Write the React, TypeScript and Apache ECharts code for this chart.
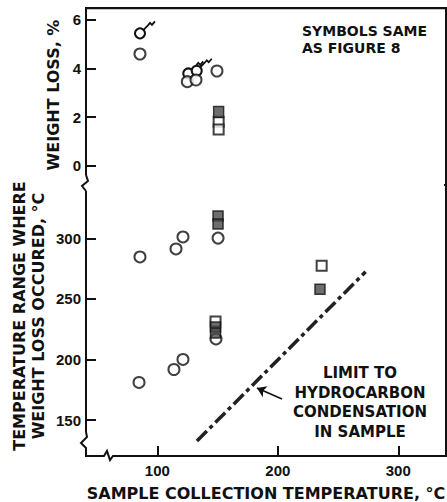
import React, { useEffect, useRef } from "react";
import * as echarts from "echarts";

// ---- data ----
const xTicks = [100, 200, 300];
const weightTicks = [0, 2, 4, 6];
const tempTicks = [150, 200, 250, 300];

// top panel: weight loss, %
const wlOpenCircles = [[85.6, 4.6], [124.9, 3.46], [132.1, 3.53], [149.5, 3.9]];
const wlFlaggedCircles = [[85.6, 5.45], [125.7, 3.8], [132.7, 3.91]];
const wlFilledSquares = [[150.9, 2.21]];
const wlOpenSquares = [[150.9, 1.81], [150.9, 1.49]];

// bottom panel: temperature range where weight loss occurred, °C
const trOpenCircles = [
  [85.6, 284.6], [115.5, 291.2], [121.3, 301.1], [150.4, 300.2],
  [84.8, 181.0], [113.8, 191.7], [121.3, 200.0], [148.7, 216.9],
];
const trOpenSquares = [[148.3, 231.4], [236.4, 277.4]];
const trFilledSquares = [[150.4, 318.4], [150.4, 311.8], [148.3, 226.8], [148.3, 221.9], [235.0, 257.9]];
const condensationLimit = [[132.9, 132.7], [272.9, 272.4]];
const arrowFrom = [203.5, 167.3];
const arrowTo = [182.7, 176.4];

const X_MIN = 40.8, X_MAX = 339.6;
const W_MIN = -0.794, W_MAX = 6.494;
const T_MIN = 120.3, T_MAX = 344;

const INK = "#111";
const TICK_FONT = "Liberation Sans";
const TITLE_FONT = "DejaVu Sans";

export default function App() {
  const ref = useRef<HTMLDivElement>(null);
  useEffect(() => {
    if (!ref.current) return;
    const chart = echarts.init(ref.current, undefined, { renderer: "svg" });

    const ls = () => ({ color: INK, width: 2 });
    const openCircle = { color: "#fff", borderColor: INK, borderWidth: 2 };
    const openSquare = { color: "#fff", borderColor: INK, borderWidth: 2 };
    const filledSquare = { color: "#4a4a4a", borderColor: INK, borderWidth: 1.5 };

    const flaggedRender = (params: any, api: any) => {
      const p = api.coord([api.value(0), api.value(1)]);
      const [cx, cy] = p;
      return {
        type: "group",
        children: [
          {
            type: "polyline",
            shape: {
              points: [
                [cx + 3.5, cy - 3.5], [cx + 8, cy - 8], [cx + 10, cy - 10.5],
                [cx + 12, cy - 8.5], [cx + 15, cy - 12],
              ],
            },
            style: { stroke: INK, lineWidth: 1.8, fill: "none" },
          },
          {
            type: "circle",
            shape: { cx, cy, r: 5 },
            style: { fill: "#fff", stroke: INK, lineWidth: 2 },
          },
        ],
      };
    };

    const whiteRect = (x: number, y: number, w: number, h: number) => ({
      type: "rect", z: 100, shape: { x, y, width: w, height: h }, style: { fill: "#fff" },
    });
    const zig = (pts: number[][]) => ({
      type: "polyline", z: 101, shape: { points: pts }, style: { stroke: INK, lineWidth: 2, fill: "none" },
    });
    const tickLabel = (values: number[], margin: number) => ({
      show: true, customValues: values, margin, color: INK,
      fontFamily: TICK_FONT, fontWeight: "bold", fontSize: 15,
    });
    const gridFrame = { show: true, borderColor: INK, borderWidth: 2, backgroundColor: "transparent" };

    chart.setOption({
      animation: false,
      backgroundColor: "#fff",
      grid: [
        { left: 86, right: 1, top: 8, height: 177, ...gridFrame },
        { left: 86, right: 1, top: 185, bottom: 46, ...gridFrame },
      ],
      xAxis: [
        {
          type: "value", gridIndex: 0, position: "top", min: X_MIN, max: X_MAX,
          axisLine: { show: false }, axisTick: { show: false }, axisLabel: { show: false }, splitLine: { show: false },
        },
        {
          type: "value", gridIndex: 1, position: "bottom", min: X_MIN, max: X_MAX,
          axisLine: { show: true, onZero: false, lineStyle: ls() },
          axisTick: { show: true, inside: true, length: 10, customValues: xTicks, lineStyle: ls() },
          axisLabel: tickLabel(xTicks, 7),
          splitLine: { show: false },
        },
      ],
      yAxis: [
        {
          type: "value", gridIndex: 0, position: "left", min: W_MIN, max: W_MAX,
          axisLine: { show: true, onZero: false, lineStyle: ls() },
          axisTick: { show: true, inside: true, length: 10, customValues: weightTicks, lineStyle: ls() },
          axisLabel: tickLabel(weightTicks, 5),
          splitLine: { show: false },
        },
        {
          type: "value", gridIndex: 1, position: "left", min: T_MIN, max: T_MAX,
          axisLine: { show: true, onZero: false, lineStyle: ls() },
          axisTick: { show: true, inside: true, length: 10, customValues: tempTicks, lineStyle: ls() },
          axisLabel: tickLabel(tempTicks, 5),
          splitLine: { show: false },
        },
      ],
      series: [
        // top panel
        { type: "scatter", xAxisIndex: 0, yAxisIndex: 0, data: wlOpenSquares, symbol: "rect", symbolSize: 10, itemStyle: openSquare },
        { type: "scatter", xAxisIndex: 0, yAxisIndex: 0, data: wlFilledSquares, symbol: "rect", symbolSize: [10, 11], itemStyle: filledSquare },
        { type: "scatter", xAxisIndex: 0, yAxisIndex: 0, data: wlOpenCircles, symbol: "circle", symbolSize: 11, itemStyle: openCircle },
        { type: "custom", xAxisIndex: 0, yAxisIndex: 0, data: wlFlaggedCircles, renderItem: flaggedRender },
        // bottom panel
        {
          type: "line", xAxisIndex: 1, yAxisIndex: 1, data: condensationLimit, symbol: "none",
          lineStyle: { color: "#222", width: 3.5, type: [14, 4, 4, 4], cap: "butt" },
          markLine: {
            silent: true, animation: false, symbolSize: 9,
            label: { show: false },
            lineStyle: { color: INK, width: 1.6, type: "solid" },
            data: [[{ coord: arrowFrom, symbol: "none" }, { coord: arrowTo, symbol: "arrow" }]],
          },
        },
        { type: "scatter", xAxisIndex: 1, yAxisIndex: 1, data: trOpenCircles, symbol: "circle", symbolSize: 11, itemStyle: openCircle },
        { type: "scatter", xAxisIndex: 1, yAxisIndex: 1, data: trOpenSquares, symbol: "rect", symbolSize: 10, itemStyle: openSquare },
        { type: "scatter", xAxisIndex: 1, yAxisIndex: 1, data: trFilledSquares, symbol: "rect", symbolSize: 10, itemStyle: filledSquare },
      ],
      graphic: [
        // hide the seam between the two panels
        whiteRect(88, 182, 356, 6),
        // top frame edge
        { type: "rect", z: 101, shape: { x: 85, y: 7, width: 362, height: 2.2 }, style: { fill: INK } },
        // axis breaks
        whiteRect(80, 175, 12, 16),
        zig([[86, 175], [88, 181], [82, 186], [86, 191]]),
        whiteRect(80, 432, 12, 22),
        zig([[86, 432], [87, 437], [81, 443], [86, 448], [86, 456]]),
        whiteRect(100, 450, 16, 10),
        zig([[100, 456], [104, 456], [107, 451], [110, 460], [113, 456], [116, 456]]),
        // texts
        {
          type: "text", x: 302, y: 22, z: 102,
          style: {
            text: "SYMBOLS SAME\nAS FIGURE 8", fill: INK, lineHeight: 17,
            font: `bold 14px "${TITLE_FONT}"`, align: "left", verticalAlign: "top",
          },
        },
        {
          type: "text", x: 360, y: 363, z: 102,
          style: {
            text: "LIMIT TO\nHYDROCARBON\nCONDENSATION\nIN SAMPLE", fill: INK, lineHeight: 19.7,
            font: `bold 15px "${TITLE_FONT}"`, align: "center", verticalAlign: "top",
          },
        },
        {
          type: "text", x: 53, y: 95, rotation: Math.PI / 2, z: 102,
          style: {
            text: "WEIGHT LOSS, %", fill: INK,
            font: `bold 16px "${TITLE_FONT}"`, align: "center", verticalAlign: "middle",
          },
        },
        {
          type: "text", x: 29, y: 316, rotation: Math.PI / 2, z: 102,
          style: {
            text: "TEMPERATURE RANGE WHERE\nWEIGHT LOSS OCCURED, °C", fill: INK, lineHeight: 19.5,
            font: `bold 16px "${TITLE_FONT}"`, align: "center", verticalAlign: "middle",
          },
        },
        {
          type: "text", x: 266, y: 493, z: 102,
          style: {
            text: "SAMPLE COLLECTION TEMPERATURE, °C", fill: INK,
            font: `bold 16px "${TITLE_FONT}"`, align: "center", verticalAlign: "middle",
          },
        },
      ],
    });
    return () => chart.dispose();
  }, []);
  return (
    <div
      ref={ref}
      style={{ position: "fixed", left: 0, top: 0, width: 447, height: 502, background: "#fff" }}
    />
  );
}
